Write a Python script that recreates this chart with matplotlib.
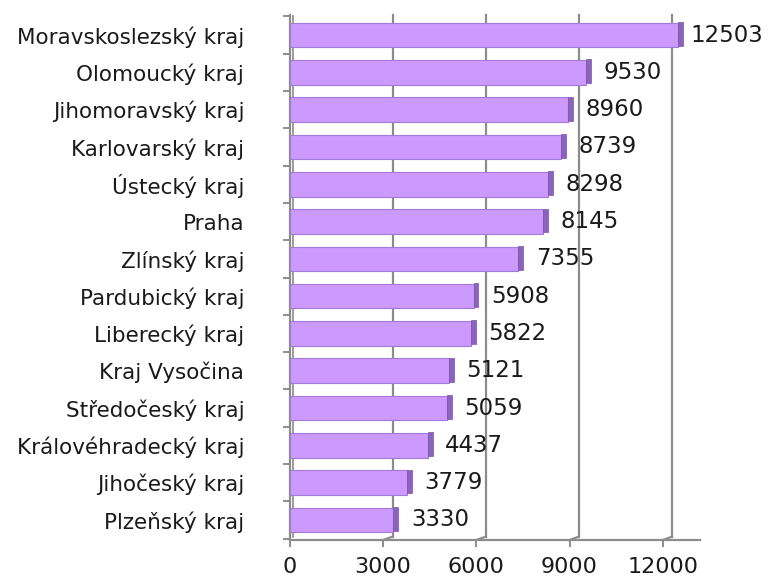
import matplotlib
matplotlib.use("Agg")
import matplotlib.pyplot as plt
from matplotlib.ticker import FixedLocator

regions = ["Plzeňský kraj", "Jihočeský kraj", "Královéhradecký kraj", "Středočeský kraj",
           "Kraj Vysočina", "Liberecký kraj", "Pardubický kraj", "Zlínský kraj", "Praha",
           "Ústecký kraj", "Karlovarský kraj", "Jihomoravský kraj", "Olomoucký kraj",
           "Moravskoslezský kraj"]
values = [3330, 3779, 4437, 5059, 5121, 5822, 5908, 7355, 8145, 8298, 8739, 8960, 9530, 12503]
xticks = [0, 3000, 6000, 9000, 12000]

plt.rcParams['font.family'] = ['DejaVu Sans']

fig = plt.figure(figsize=(7.68, 5.83), dpi=100)
ax = fig.add_axes([290/768, 1-540/583, 410/768, 525/583])
xmax = 13200
ax.set_xlim(0, xmax)
ax.set_ylim(-0.54, len(values) - 0.46)

depth_x = 300
grid_c = '#8c8c8c'
# back-wall gridlines
for t in xticks[1:]:
    ax.plot([t + depth_x, t + depth_x], [-0.45, len(values) - 0.46], color=grid_c, lw=1.6, zorder=1, clip_on=False)
    ax.plot([t, t + depth_x], [-0.54, -0.45], color=grid_c, lw=1.6, zorder=1, clip_on=False)
ax.plot([depth_x * 0.3, depth_x * 0.3], [-0.45, len(values) - 0.46], color=grid_c, lw=1.2, zorder=1)

ys = list(range(len(values)))
h = 0.66
ax.barh(ys, values, height=h, left=0, color='#CC99FF', edgecolor='#A27BD8', linewidth=0.8, zorder=3)
side_w = 160
ax.barh([y + 0.03 for y in ys], [side_w] * len(values), height=h - 0.02, left=values,
        color='#8A64B8', edgecolor='#7A55A8', linewidth=0.5, zorder=3)

for y, v in zip(ys, values):
    lx = min(v + side_w + 400, 12880)
    ax.text(lx, y, str(v), va='center', ha='left', fontsize=16.5, color='#1a1a1a',
            zorder=5, clip_on=False)

for s in ['top', 'right']:
    ax.spines[s].set_visible(False)
ax.spines['left'].set_color(grid_c)
ax.spines['left'].set_linewidth(1.6)
ax.spines['bottom'].set_color(grid_c)
ax.spines['bottom'].set_linewidth(1.6)

ax.set_xticks(xticks)
ax.set_xticklabels([str(t) for t in xticks], fontsize=16, color='#1a1a1a')
ax.tick_params(axis='x', length=5, color=grid_c, pad=7, direction='out', width=1.4)

ax.set_yticks(ys)
ax.set_yticklabels(regions, fontsize=15.5, color='#1a1a1a')
ax.tick_params(axis='y', which='major', length=0, pad=33)
ax.yaxis.set_minor_locator(FixedLocator([i - 0.5 for i in range(len(values) + 1)]))
ax.tick_params(axis='y', which='minor', length=5, color=grid_c, width=1.4)

fig.savefig("out.png", dpi=100)
